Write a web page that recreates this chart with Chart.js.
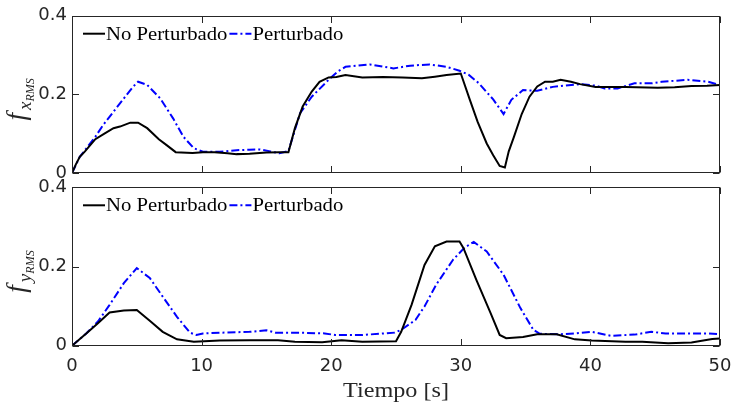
<!DOCTYPE html>
<html>
<head>
<meta charset="utf-8">
<script src="https://cdn.jsdelivr.net/npm/chart.js@4.4.0/dist/chart.umd.min.js"></script>
<style>
  html, body { margin: 0; padding: 0; background: #fff; }
  #wrap { position: relative; width: 732px; height: 405px; }
  canvas { position: absolute; left: 0; }
  #top { top: 0; }
  #bottom { top: 176px; }
</style>
</head>
<body>
<div id="wrap">
  <canvas id="top" width="732" height="186"></canvas>
  <canvas id="bottom" width="732" height="229"></canvas>
</div>
<script>
  'use strict'

  var seriesNames = ['No Perturbado', 'Perturbado']
  var xTickValues = [0, 10, 20, 30, 40, 50]
  var yTickValues = [0, 0.2, 0.4]

  // f_x RMS, sin perturbacion
  var tFxNoPert = [0, 0.3, 0.6, 1, 1.8, 2.5, 3.2, 3.7, 4.5, 5.1, 5.8, 6.7, 7.3, 8, 9.3, 10.1, 11, 12, 12.7, 13.7,
    15, 16, 16.7, 17.2, 17.8, 18.5, 19.1, 19.8, 20.4, 21.1, 22.4, 24, 25.5, 27, 28, 28.9, 30, 30.7, 31.3, 32,
    32.5, 33, 33.4, 33.7, 34.1, 34.7, 35.3, 35.9, 36.5, 37.1, 37.7, 38.5, 39.2, 40.4, 42.7, 45.2, 46.5, 47.8, 49, 50]
  var fxNoPert = [0, 0.022, 0.041, 0.055, 0.086, 0.1, 0.114, 0.118, 0.128, 0.128, 0.114, 0.086, 0.071, 0.053, 0.051, 0.053, 0.053, 0.05, 0.048, 0.049,
    0.052, 0.053, 0.053, 0.114, 0.169, 0.207, 0.232, 0.243, 0.244, 0.249, 0.243, 0.244, 0.243, 0.241, 0.245, 0.249, 0.253, 0.186, 0.13, 0.075,
    0.045, 0.018, 0.014, 0.055, 0.092, 0.15, 0.194, 0.22, 0.232, 0.232, 0.237, 0.232, 0.226, 0.219, 0.219, 0.217, 0.218, 0.221, 0.222, 0.224]

  // f_x RMS, con perturbacion
  var tFxPert = [0, 0.6, 1.8, 2.4, 3.7, 4.7, 5.1, 5.8, 6.8, 7.8, 8.6, 9.4, 10.1, 11.4, 12.7, 13.7, 14.5, 15.3, 16, 16.7,
    17.6, 18.5, 19.8, 20.5, 21.1, 23, 24.8, 26.1, 27.6, 28.9, 29.9, 30.6, 31.4, 32.5, 33.3, 33.9, 34.8, 35.9, 37.1, 39.2, 40.4,
    41.1, 42.1, 43.4, 44.7, 45.5, 47.5, 49.1, 50]
  var fxPert = [0, 0.041, 0.092, 0.122, 0.177, 0.219, 0.232, 0.224, 0.19, 0.139, 0.092, 0.063, 0.054, 0.054, 0.058, 0.059, 0.06, 0.055, 0.05, 0.056,
    0.152, 0.194, 0.237, 0.258, 0.27, 0.276, 0.266, 0.273, 0.276, 0.27, 0.26, 0.25, 0.228, 0.187, 0.15, 0.186, 0.211, 0.209, 0.219, 0.226, 0.222,
    0.215, 0.215, 0.228, 0.228, 0.232, 0.237, 0.232, 0.223]

  // f_y RMS, sin perturbacion
  var tFyNoPert = [0, 1.1, 2, 2.9, 4, 5, 6, 7, 8.1, 9.4, 11.4, 13.7, 15.9, 17.2, 19.3, 20.8, 22.4, 25, 25.4, 26.2,
    27.2, 28, 28.9, 29.9, 30.2, 31.2, 32.3, 33, 33.5, 34.8, 35.9, 37.4, 38.8, 40.1, 42.7, 44, 46, 47.8, 49.4, 50]
  var fyNoPert = [0, 0.031, 0.057, 0.084, 0.089, 0.09, 0.063, 0.035, 0.016, 0.01, 0.013, 0.014, 0.014, 0.01, 0.009, 0.014, 0.01, 0.011, 0.035, 0.103,
    0.204, 0.251, 0.263, 0.263, 0.247, 0.166, 0.082, 0.027, 0.019, 0.022, 0.029, 0.029, 0.016, 0.013, 0.01, 0.01, 0.006, 0.008, 0.017, 0.018]

  // f_y RMS, con perturbacion
  var tFyPert = [0, 1.1, 2, 2.9, 4, 5, 6, 7, 8.1, 9.1, 9.6, 10.1, 11.6, 13.7, 15, 15.7, 17.5, 19.5, 20.3, 22.4,
    24.9, 25.4, 26.5, 27.2, 28.1, 29.4, 30.3, 31, 32, 33.3, 34.6, 35.6, 36.1, 37.7, 38.8, 40.1, 41.6, 43.4, 44.7, 45.8,
    49.1, 50]
  var fyPert = [0, 0.031, 0.061, 0.103, 0.158, 0.196, 0.171, 0.124, 0.073, 0.033, 0.027, 0.031, 0.033, 0.035, 0.039, 0.033, 0.033, 0.031, 0.027, 0.027,
    0.033, 0.04, 0.065, 0.099, 0.154, 0.217, 0.248, 0.262, 0.238, 0.179, 0.095, 0.04, 0.03, 0.029, 0.031, 0.035, 0.025, 0.028, 0.035, 0.031,
    0.031, 0.029]

  var axisColor = '#262626'
  var tickLen = 6.5

  function points (t, v) {
    return t.map(function (x, i) { return { x: x, y: v[i] } })
  }

  // serif text, slightly widened
  function serifText (ctx, text, x, y, size, sx, align) {
    ctx.save()
    ctx.font = size + 'px "Liberation Serif"'
    var w = ctx.measureText(text).width * sx
    var x0 = align === 'center' ? x - w / 2 : x
    ctx.translate(x0, y)
    ctx.scale(sx, 1)
    ctx.textAlign = 'left'
    ctx.textBaseline = 'alphabetic'
    ctx.fillText(text, 0, 0)
    ctx.restore()
    return w
  }

  // box with inward ticks on all four sides
  var framePlugin = {
    id: 'frame',
    afterDatasetsDraw: function (chart) {
      var ctx = chart.ctx
      var a = chart.chartArea
      var x = chart.scales.x
      var y = chart.scales.y
      var L = Math.round(a.left) + 0.5
      var R = Math.round(a.right) - 0.5
      var T = Math.round(a.top) + 0.5
      var B = Math.round(a.bottom) - 0.5
      ctx.save()
      ctx.strokeStyle = axisColor
      ctx.lineWidth = 1
      ctx.strokeRect(L, T, R - L, B - T)
      ctx.beginPath()
      xTickValues.forEach(function (v) {
        var px = Math.round(x.getPixelForValue(v)) + 0.5
        ctx.moveTo(px, B); ctx.lineTo(px, B - tickLen)
        ctx.moveTo(px, T); ctx.lineTo(px, T + tickLen)
      })
      yTickValues.forEach(function (v) {
        var py = Math.round(y.getPixelForValue(v)) + 0.5
        ctx.moveTo(L, py); ctx.lineTo(L + tickLen, py)
        ctx.moveTo(R, py); ctx.lineTo(R - tickLen, py)
      })
      ctx.stroke()
      ctx.restore()
    }
  }

  // legend inside the axes, top left, no box
  var legendPlugin = {
    id: 'innerLegend',
    afterDraw: function (chart) {
      var ctx = chart.ctx
      var a = chart.chartArea
      var lineY = a.top + 18
      var x = a.left + 11
      chart.data.datasets.forEach(function (ds) {
        ctx.save()
        ctx.strokeStyle = ds.borderColor
        ctx.lineWidth = ds.borderWidth
        ctx.setLineDash(ds.borderDash || [])
        ctx.beginPath()
        ctx.moveTo(x, lineY)
        ctx.lineTo(x + 22, lineY)
        ctx.stroke()
        ctx.restore()
        ctx.fillStyle = '#000'
        x += 23
        x += serifText(ctx, ds.label, x, lineY + 6, 18.5, 1.12) + 2
      })
    }
  }

  // f with nested subscripts, rotated
  var yLabelPlugin = {
    id: 'ylabel',
    afterDraw: function (chart, args, opts) {
      var ctx = chart.ctx
      var a = chart.chartArea
      var parts = [
        { t: 'f', size: 27, dy: 0, gap: 3 },
        { t: opts.sub, size: 19, dy: 6, gap: 0 },
        { t: 'RMS', size: 12, dy: 9, gap: 0 }
      ]
      ctx.save()
      ctx.fillStyle = axisColor
      var total = 0
      parts.forEach(function (p) {
        ctx.font = 'italic ' + p.size + 'px "Liberation Serif"'
        p.w = ctx.measureText(p.t).width + p.gap
        total += p.w
      })
      ctx.translate(a.left - 47, (a.top + a.bottom) / 2 + 5)
      ctx.rotate(-Math.PI / 2)
      var x = -total / 2
      parts.forEach(function (p) {
        ctx.font = 'italic ' + p.size + 'px "Liberation Serif"'
        ctx.fillText(p.t, x, p.dy)
        x += p.w
      })
      ctx.restore()
    }
  }

  var xTitlePlugin = {
    id: 'xtitle',
    afterDraw: function (chart, args, opts) {
      if (!opts.text) return
      var ctx = chart.ctx
      var a = chart.chartArea
      ctx.fillStyle = axisColor
      serifText(ctx, opts.text, (a.left + a.right) / 2, a.bottom + 51, 22, 1.1, 'center')
    }
  }

  Chart.defaults.font.family = '"DejaVu Sans"'
  Chart.defaults.color = axisColor

  function makeChart (el, tA, vA, tB, vB, sub, showX, padTop, padBottom, xHeight) {
    return new Chart(document.getElementById(el), {
      type: 'line',
      data: {
        datasets: [{
          label: seriesNames[0],
          data: points(tA, vA),
          borderColor: '#000000',
          borderWidth: 2,
          pointRadius: 0,
          tension: 0
        }, {
          label: seriesNames[1],
          data: points(tB, vB),
          borderColor: '#0000ff',
          borderWidth: 2,
          borderDash: [8, 3, 2, 3],
          pointRadius: 0,
          tension: 0
        }]
      },
      options: {
        responsive: false,
        animation: false,
        devicePixelRatio: 1,
        layout: { padding: { left: 0, right: 12, top: padTop, bottom: padBottom } },
        plugins: {
          legend: { display: false },
          tooltip: { enabled: false },
          ylabel: { sub: sub },
          xtitle: { text: showX ? 'Tiempo [s]' : '' }
        },
        scales: {
          x: {
            type: 'linear',
            min: 0,
            max: 50,
            grid: { display: false, drawTicks: false },
            border: { display: false },
            ticks: {
              display: showX,
              stepSize: 10,
              padding: 10,
              font: { size: 18 },
              color: axisColor
            },
            afterFit: function (scale) {
              scale.height = xHeight
              scale.paddingLeft = 0
              scale.paddingRight = 0
            }
          },
          y: {
            min: 0,
            max: 0.4,
            grid: { display: false, drawTicks: false },
            border: { display: false },
            ticks: {
              stepSize: 0.2,
              padding: 5,
              font: { size: 18 },
              color: axisColor
            },
            afterFit: function (scale) {
              scale.width = 72
              scale.paddingTop = 0
              scale.paddingBottom = 0
            }
          }
        }
      },
      plugins: [framePlugin, legendPlugin, yLabelPlugin, xTitlePlugin]
    })
  }

  makeChart('top', tFxNoPert, fxNoPert, tFxPert, fxPert, 'x', false, 15.7, 13, 0)
  makeChart('bottom', tFyNoPert, fyNoPert, tFyPert, fyPert, 'y', true, 11.3, 0, 59.3)
</script>
</body>
</html>
